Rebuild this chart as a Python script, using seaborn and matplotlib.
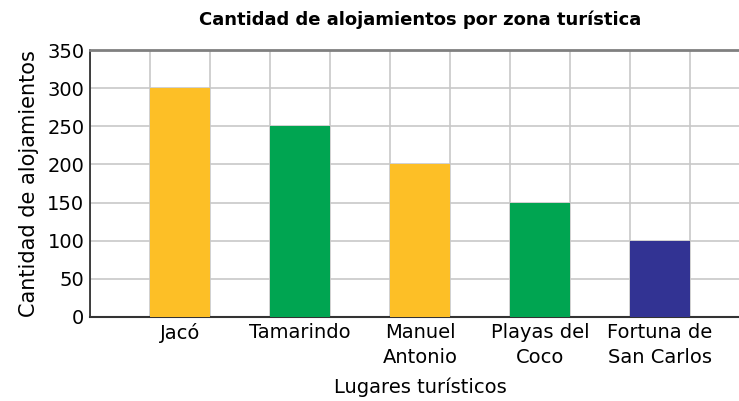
import matplotlib
matplotlib.use("Agg")
import matplotlib.pyplot as plt
from matplotlib.ticker import MultipleLocator
import pandas as pd
import seaborn as sns

lugares = ["Jacó", "Tamarindo", "Manuel\nAntonio", "Playas del\nCoco", "Fortuna de\nSan Carlos"]
alojamientos = [300, 250, 200, 150, 100]
colores = ["#FDBF26", "#00A551", "#FDBF26", "#00A551", "#323393"]

df = pd.DataFrame({"lugar": lugares, "cantidad": alojamientos})

sns.set_style("white")
plt.rcParams["font.family"] = ["DejaVu Sans"]
plt.rcParams["text.color"] = "black"
plt.rcParams["axes.labelcolor"] = "black"
plt.rcParams["xtick.color"] = "black"
plt.rcParams["ytick.color"] = "black"

fig = plt.figure(figsize=(7.39, 4.01), dpi=100)
# axes run slightly past the right edge like the original
ax = fig.add_axes([90 / 739, 1 - 317 / 401, 660 / 739, 267 / 401])

sns.barplot(data=df, x="lugar", y="cantidad", hue="lugar", palette=colores,
            legend=False, width=0.5, saturation=1, linewidth=0, ax=ax, zorder=3)

ax.set_xlim(-0.75, 4.75)
ax.set_ylim(0, 350)
ax.yaxis.set_major_locator(MultipleLocator(50))
ax.xaxis.set_minor_locator(MultipleLocator(0.5, offset=0.25))
ax.grid(True, axis="y", which="major", color="#c8c8c8", lw=1.2, zorder=0)
ax.grid(True, axis="x", which="minor", color="#c8c8c8", lw=1.2, zorder=0)
ax.set_axisbelow(True)

ax.spines["right"].set_visible(False)
ax.spines["top"].set_color("#808080")
ax.spines["top"].set_linewidth(2)
ax.spines["left"].set_color("#222222")
ax.spines["left"].set_linewidth(1.2)
ax.spines["bottom"].set_color("#333333")
ax.spines["bottom"].set_linewidth(1.5)

ax.tick_params(axis="y", direction="in", length=7, color="#999999",
               labelcolor="black", labelsize=14, pad=4)
ax.tick_params(axis="x", which="major", length=0, labelcolor="black", labelsize=14, pad=4)
ax.tick_params(axis="x", which="minor", length=0)
for t in ax.get_xticklabels():
    t.set_linespacing(1.45)

ax.set_xlabel("Lugares turísticos", fontsize=14, labelpad=7, color="black")
ax.set_ylabel("Cantidad de alojamientos", fontsize=15, labelpad=6, color="black")
fig.text(420 / 739, 1 - 20 / 401, "Cantidad de alojamientos por zona turística",
         ha="center", va="center", fontsize=13, fontweight="bold", color="black")

fig.savefig("out.png", dpi=100)
